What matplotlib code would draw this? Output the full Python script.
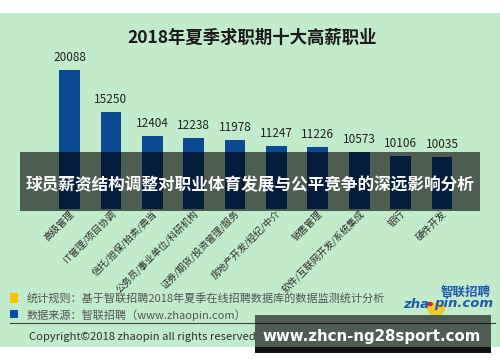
import matplotlib; matplotlib.use('agg')
import matplotlib.pyplot as plt
from matplotlib.patches import Rectangle, Circle
from matplotlib.transforms import ScaledTranslation

plt.rcParams['font.family'] = ['Noto Sans CJK SC', 'DejaVu Sans']

# Data
jobs = ['高级管理', 'IT管理/项目协调', '信托/担保/拍卖/典当',
        '公务员/事业单位/科研机构', '证券/期货/投资管理/服务',
        '房地产开发/经纪/中介', '销售管理', '软件/互联网开发/系统集成',
        '银行', '硬件开发']
salaries = [20088, 15250, 12404, 12238, 11978, 11247, 11226, 10573, 10106, 10035]

title = '2018年夏季求职期十大高薪职业'
banner = '球员薪资结构调整对职业体育发展与公平竞争的深远影响分析'
note_rule = '统计规则：基于智联招聘2018年夏季在线招聘数据库的数据监测统计分析'
note_source = '数据来源：智联招聘（www.zhaopin.com）'
copyright_text = 'Copyright©2018 zhaopin all rights reserved'
watermark = 'www.zhcn-ng28sport.com'

W, H = 500, 362
GREEN = '#C1EBCA'
BLUE = '#0B4A92'


def fx(x):
    return x / W


def fy(y):
    return 1 - y / H


def box(x0, y0, x1, y1, **kw):
    fig.patches.append(Rectangle((fx(x0), fy(y1)), fx(x1) - fx(x0), fy(y0) - fy(y1),
                                 transform=fig.transFigure, **kw))


fig = plt.figure(figsize=(5, 3.62), dpi=100)
fig.patch.set_facecolor('white')

# green card background
box(0, 13, W, 347, facecolor=GREEN, edgecolor='none', zorder=-10)

fig.text(fx(252), fy(38), title, ha='center', va='center', fontsize=12.5,
         fontweight='bold', color='#1a1a1a')

# bar chart
ax = fig.add_axes([fx(48.8), fy(209.2), fx(413.9), fy(53.4) - fy(209.2)])
ax.set_zorder(1)
ax.patch.set_alpha(0)
xs = range(len(jobs))
ax.bar(xs, salaries, width=0.5, color=BLUE)
for x, v in zip(xs, salaries):
    ax.text(x, v + 700, str(v), ha='center', va='bottom', fontsize=8.5, color='#222222')
ax.set_xlim(-0.5, 9.5)
ax.set_ylim(4000, 22000)
ax.set_yticks([])
ax.set_xticks(list(xs))
ax.set_xticklabels(jobs, rotation=45, ha='right', va='center', rotation_mode='anchor',
                   fontsize=6.8, color='#2a2a2a')
ax.tick_params(axis='x', length=0, pad=0)
shift = ScaledTranslation(3 / 100, -3 / 100, fig.dpi_scale_trans)
for lab in ax.get_xticklabels():
    lab.set_transform(lab.get_transform() + shift)
for s in ax.spines.values():
    s.set_visible(False)

# footer notes
box(10, 293, 18, 303, facecolor='#FFC000', edgecolor='none')
box(10, 310, 18, 318, facecolor='#0B4DA2', edgecolor='none')
fig.text(fx(27), fy(298), note_rule, ha='left', va='center', fontsize=8, color='#555555')
fig.text(fx(27), fy(315), note_source, ha='left', va='center', fontsize=8, color='#555555')
fig.add_artist(plt.Line2D([fx(10), fx(495)], [fy(323), fy(323)], transform=fig.transFigure,
                          color='#444444', lw=0.8))
fig.text(fx(29), fy(337), copyright_text, ha='left', va='center', fontsize=8.1, color='#333333')

# logo
fig.patches.append(Circle((fx(436), fy(309)), 9 / W, transform=fig.transFigure,
                          facecolor='#F5C518', edgecolor='none', alpha=0.9))
fig.text(fx(466), fy(292), '智联招聘', ha='center', va='center', fontsize=9,
         fontweight='bold', style='italic', color='#1E5BB0')
fig.text(fx(403), fy(304), 'zha', ha='left', va='center', fontsize=9.5,
         fontweight='bold', style='italic', color='#1E5BB0', family='DejaVu Sans')
fig.patches.append(Circle((fx(430), fy(304)), 3 / W, transform=fig.transFigure,
                          facecolor='#E02020', edgecolor='none'))
fig.text(fx(434), fy(304), 'pin.com', ha='left', va='center', fontsize=9.5,
         fontweight='bold', style='italic', color='#1E5BB0', family='DejaVu Sans')

# overlay banners
box(20, 152, 480, 211, facecolor='black', edgecolor='none', alpha=0.6, zorder=5)
fig.text(fx(250), fy(185), banner, ha='center', va='center', fontsize=12,
         fontweight='bold', color='white', zorder=6)

box(255, 347, 491, 353, facecolor='#111111', edgecolor='none', zorder=5)
box(255, 315, 491, 347, facecolor='black', edgecolor='none', alpha=0.6, zorder=5)
fig.text(fx(372), fy(336), watermark, ha='center', va='center', fontsize=10.8,
         fontweight='bold', color='white', family='DejaVu Sans', zorder=6)

fig.savefig('out.png', dpi=100)
